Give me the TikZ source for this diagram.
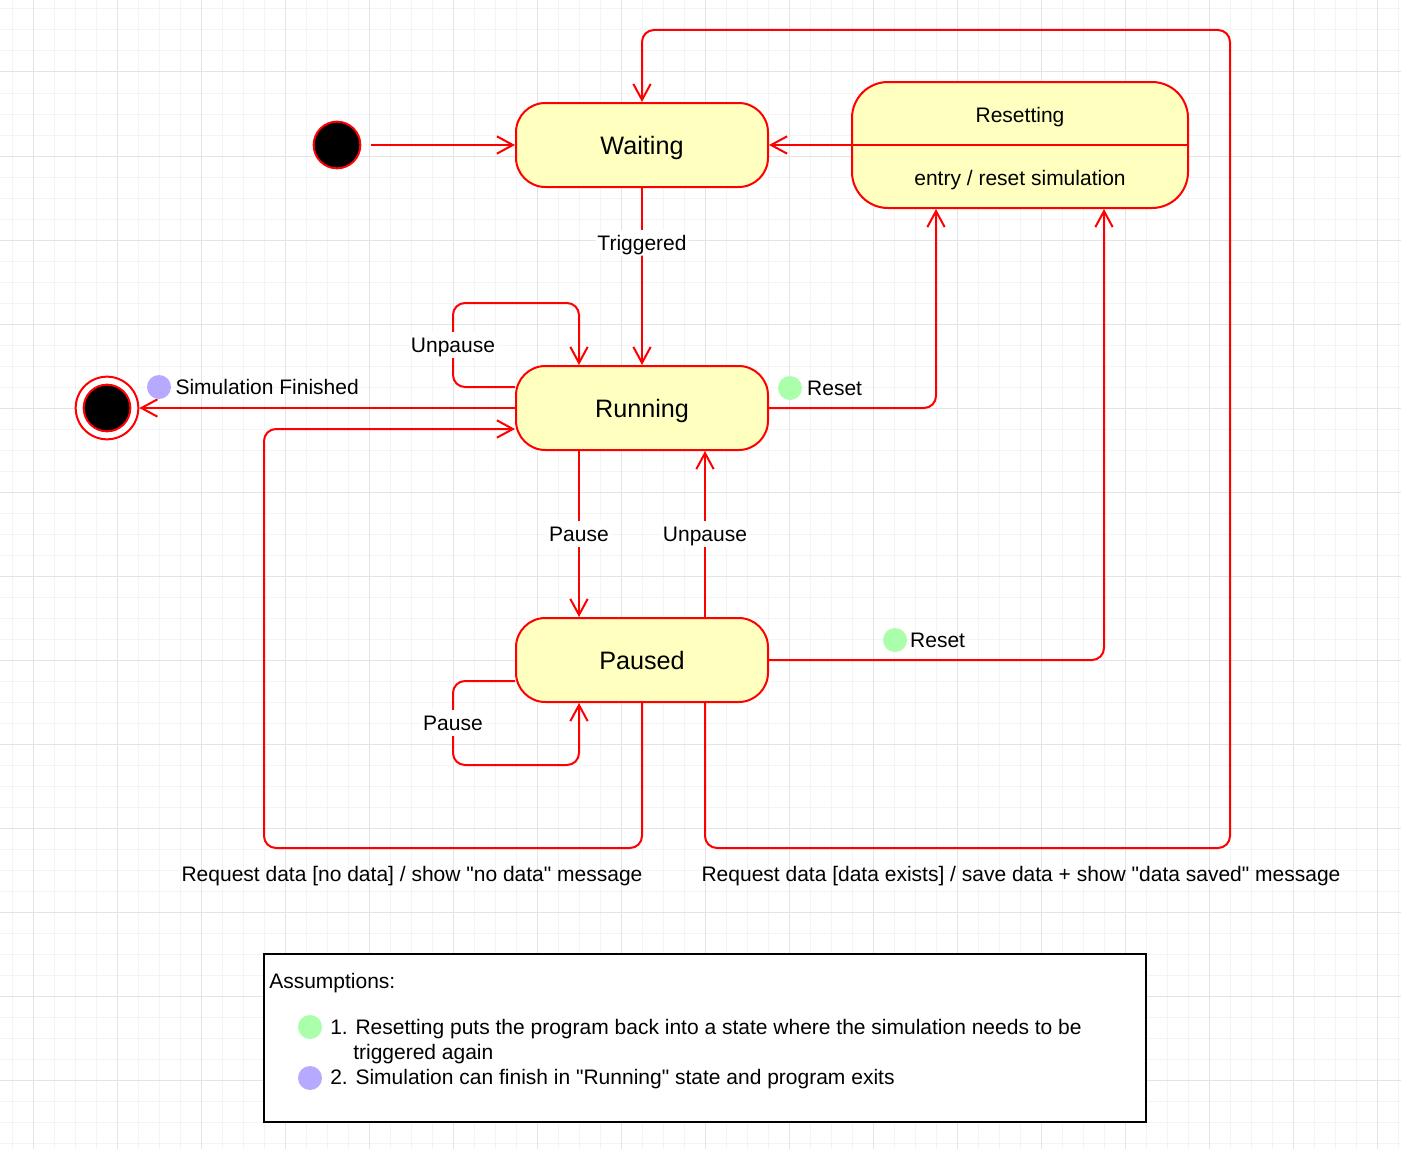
\documentclass[tikz,border=0pt]{standalone}
\usepackage{fontspec}
\setmainfont{Liberation Sans}
\usetikzlibrary{positioning,calc,arrows.meta}
\definecolor{statefill}{HTML}{FFFFC0}
\definecolor{trred}{HTML}{FF0000}
\definecolor{resetgreen}{HTML}{AAFFAA}
\definecolor{finishpurple}{HTML}{B5AAFF}
\definecolor{gridminor}{HTML}{F4F4F4}
\definecolor{gridmajor}{HTML}{E4E4E4}

\begin{document}
\begin{tikzpicture}[x=0.75pt, y=-0.75pt,
    state/.style={rectangle, rounded corners=22pt, draw=trred, line width=1.5pt, fill=statefill,
        minimum width=189pt, minimum height=63pt, text height=13.5pt, text depth=0pt,
        font=\fontsize{18.9}{22}\selectfont},
    startst/.style={circle, draw=trred, line width=1.5pt, fill=black, minimum size=35pt, inner sep=0pt},
    tr/.style={draw=trred, line width=1.5pt, rounded corners=9pt, -{Straight Barb[length=12pt,width=13pt]}},
    lbl/.style={fill=white, inner xsep=1.5pt, inner ysep=4pt, text height=11.3pt, text depth=0pt,
        font=\fontsize{15.75}{19}\selectfont},
    txt/.style={inner sep=0pt, text height=11.3pt, text depth=0pt, font=\fontsize{15.75}{19}\selectfont},
    dot/.style={circle, fill=#1, minimum size=18pt, inner sep=0pt}]

    % background grid
    \fill[white] (0,0) rectangle (1401,1149);
    \useasboundingbox (0,0) rectangle (1401,1149);
    \foreach \gx in {12,33,...,1401} \draw[gridminor, line width=0.75pt] (\gx,0) -- (\gx,1149);
    \foreach \gy in {9,30,...,1149} \draw[gridminor, line width=0.75pt] (0,\gy) -- (1401,\gy);
    \foreach \gx in {33,117,...,1401} \draw[gridmajor, line width=0.75pt] (\gx,0) -- (\gx,1149);
    \foreach \gy in {72,156,...,1149} \draw[gridmajor, line width=0.75pt] (0,\gy) -- (1401,\gy);

    % States
    \node (init)[startst] at (337,145) {};
    \node (waiting)[state] at (642,145) {Waiting};
    \node (running)[state] at (642,408) {Running};
    \node (paused)[state] at (642,660) {Paused};
    \node (reset)[state, rounded corners=27pt, minimum width=252pt, minimum height=94.5pt] at (1020,145) {};
    \draw[trred, line width=1.5pt] (reset.west) -- (reset.east);
    \node (resettitle)[txt] at ($(reset.center)+(0,-30)$) {Resetting};
    \node (resetentry)[txt] at ($(reset.center)+(0,33)$) {entry / reset simulation};

    % Final state
    \node (final)[circle, draw=trred, line width=1.5pt, fill=white, minimum size=47pt, inner sep=0pt] at (107,408) {};
    \node (finalcore)[startst] at (final) {};

    % Transitions
    \draw[tr, shorten <=7pt] (init) -- (waiting);
    \draw[tr] (reset.west) -- (waiting.east);
    \draw[tr] (waiting) -- node[lbl, pos=0.31] {Triggered} (running);

    % self loop on Running
    \draw[tr] ($(running.west)+(0,-21)$) -| node[lbl, pos=0.75] {Unpause} (453,303) -| ($(running.north)+(-63,0)$);

    \draw[tr] (running.west) -- (final);
    \node (simdot)[dot=finishpurple] at (159,387) {};
    \node (simtxt)[txt, right=3pt of simdot] {Simulation Finished};

    \draw[tr] (running.east) -| ($(reset.south)+(-84,0)$);
    \node (resetdot)[dot=resetgreen] at (790,388) {};
    \node (resettxt)[txt, right=3.5pt of resetdot] {Reset};

    \draw[tr] ($(running.south)+(-63,0)$) -- node[lbl] {Pause} ($(paused.north)+(-63,0)$);
    \draw[tr] ($(paused.north)+(63,0)$) -- node[lbl] {Unpause} ($(running.south)+(63,0)$);

    % self loop on Paused
    \draw[tr] ($(paused.west)+(0,21)$) -| node[lbl, pos=0.75] {Pause} (453,765) -| ($(paused.south)+(-63,0)$);

    \draw[tr] (paused.east) -| ($(reset.south)+(84,0)$);
    \node (pauseddot)[dot=resetgreen] at (895,640) {};
    \node (pausedtxt)[txt, right=2pt of pauseddot] {Reset};

    % Request data
    \draw[tr] (paused.south) |- (264,848) |- ($(running.west)+(0,21)$);
    \node (nodata)[txt] at (412,874) {Request data [no data] / show \textquotedbl no data\textquotedbl{} message};
    \draw[tr] ($(paused.south)+(63,0)$) |- (1230,848) -- (1230,30) -| (waiting.north);
    \node (datasaved)[txt] at (1021,874) {Request data [data exists] / save data + show \textquotedbl data saved\textquotedbl{} message};

    % Assumptions
    \node (notes)[draw=black, line width=1.9pt, fill=white, minimum width=661.5pt, minimum height=126pt] at (705,1038) {};
    \node (notehead)[txt, anchor=west] at (269,981) {Assumptions:};
    \node (notedot1)[dot=resetgreen] at (310,1027) {};
    \node (note1)[txt, anchor=west] at (330,1027) {1. Resetting puts the program back into a state where the simulation needs to be};
    \node (note1b)[txt, anchor=west] at (353,1052) {triggered again};
    \node (notedot2)[dot=finishpurple] at (310,1078) {};
    \node (note2)[txt, anchor=west] at (330,1077) {2. Simulation can finish in \textquotedbl Running\textquotedbl{} state and program exits};
\end{tikzpicture}
\end{document}
